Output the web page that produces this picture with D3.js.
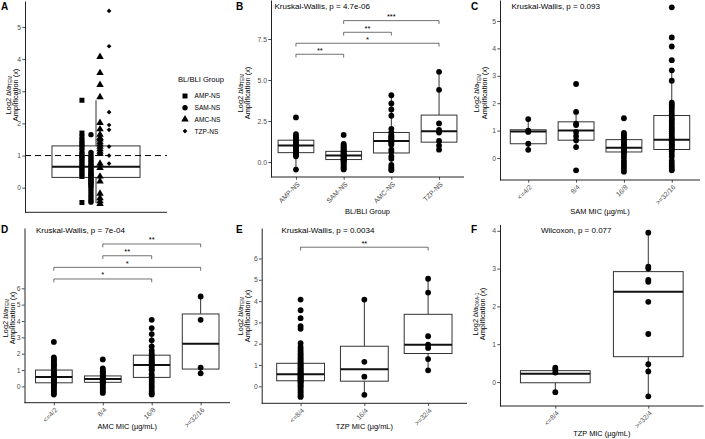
<!DOCTYPE html>
<html><head><meta charset="utf-8">
<script src="https://cdn.jsdelivr.net/npm/d3@7"></script>
<style>body{margin:0;background:#fff} svg{display:block;font-family:"Liberation Sans",Arial,sans-serif}</style>
</head><body><svg id="c" width="705" height="439"></svg>
<script>
// ---------------- DATA ----------------
const groupCats = ["AMP-NS","SAM-NS","AMC-NS","TZP-NS"];
const ampNS = [2.72,1.7,1.58,1.48,1.4,1.33,1.25,1.15,1.05,1.0,0.95,0.88,0.8,0.72,0.65,0.58,0.5,0.42,0.35,-0.46];
const samNS = [1.65,1.1,1.02,0.95,0.88,0.82,0.75,0.7,0.65,0.6,0.55,0.5,0.46,0.42,0.38,0.34,0.3,0.26,0.22,0.18,0.14,0.1,0.05,0.0,-0.08,-0.16,-0.24,-0.32,-0.4,-0.45];
const amcNS = [4.07,3.57,3.2,2.82,2.02,1.82,1.65,1.55,1.5,1.42,1.35,1.28,1.2,1.12,1.05,0.75,0.62,0.35,0.2,-0.18,-0.32,-0.42,-0.5];
const tzpNS = [5.5,4.4,2.35,1.95,1.8,1.28,1.0,0.75];
const allStats = {q1:0.32, med:0.65, q3:1.3, lo:-0.48, hi:2.72};
const groupQ1 = [0.57,0.15,0.55,1.21], groupMed=[1.0,0.4,1.28,1.88], groupQ3=[1.33,0.65,1.8,2.86], groupLo=[-0.46,-0.45,-0.5,0.75], groupHi=[1.7,1.1,4.07,5.5];
const groupBrackets = [["SAM-NS","TZP-NS",8.62,"***"],["SAM-NS","AMC-NS",7.91,"**"],["AMP-NS","TZP-NS",7.24,"*"],["AMP-NS","SAM-NS",6.57,"**"]];

const samMIC = ["<=4/2","8/4","16/8",">=32/16"];
const samPts = [
  [1.42,1.0,0.95,0.52,0.3],
  [2.7,1.68,1.25,1.2,0.95,0.8,0.65,0.4,-0.45],
  [1.45,0.92,0.86,0.8,0.72,0.66,0.6,0.55,0.5,0.45,0.4,0.36,0.32,0.28,0.24,0.2,0.12,0.02,-0.1,-0.2,-0.3,-0.4,-0.5],
  [5.5,4.4,4.07,3.57,3.2,2.82,2.02,1.95,1.88,1.8,1.7,1.6,1.5,1.42,1.35,1.28,1.2,1.12,1.05,0.98,0.9,0.82,0.75,0.7,0.65,0.6,0.55,0.5,0.45,0.4,0.35,0.3,0.25,0.15,0.05,-0.1,-0.2,-0.3,-0.38,-0.45]
];
const samQ1=[0.52,0.65,0.22,0.31], samMed=[0.97,1.0,0.37,0.67], samQ3=[1.03,1.32,0.67,1.55], samLo=[0.3,0.4,-0.5,-0.45], samHi=[1.42,1.68,0.92,3.2];

const amcMIC = ["<=4/2","8/4","16/8",">=32/16"];
const amcPts = [
  [2.72,1.77,1.68,1.6,1.5,1.42,1.35,1.28,1.2,1.1,1.0,0.95,0.88,0.8,0.72,0.68,0.62,0.58,0.52,0.46,0.4,0.34,0.28,0.22,0.15,0.08,0.0,-0.1,-0.2,-0.3,-0.4,-0.5],
  [1.65,1.1,1.0,0.92,0.85,0.78,0.7,0.64,0.58,0.52,0.47,0.43,0.4,0.36,0.32,0.28,0.24,0.2,0.1,0.0,-0.1,-0.2,-0.3,-0.4],
  [4.07,3.57,3.2,2.82,2.45,2.2,2.02,1.9,1.82,1.72,1.62,1.55,1.48,1.4,1.32,1.25,1.15,1.05,0.95,0.75,0.6,0.45,0.3,0.15,0.0,-0.15,-0.3,-0.42,-0.5],
  [5.5,4.07,1.15,0.8]
];
const amcQ1=[0.22,0.25,0.55,1.06], amcMed=[0.57,0.45,1.31,2.61], amcQ3=[1.0,0.64,1.91,4.43], amcLo=[-0.5,-0.4,-0.5,0.8], amcHi=[1.77,1.1,3.57,5.5];
const amcBrackets = [["8/4",">=32/16",8.71,"**"],["8/4","16/8",7.99,"**"],["<=4/2",">=32/16",7.28,"*"],["<=4/2","16/8",6.57,"*"]];

const tzpMIC = ["<=8/4","16/4",">=32/4"];
const tzpPts = [
  [4.07,3.57,3.2,2.82,2.7,2.02,1.85,1.75,1.65,1.55,1.48,1.4,1.32,1.25,1.18,1.1,1.05,1.0,0.95,0.9,0.85,0.8,0.75,0.7,0.65,0.6,0.57,0.54,0.5,0.46,0.42,0.38,0.34,0.3,0.26,0.22,0.18,0.12,0.05,0.0,-0.08,-0.16,-0.24,-0.32,-0.4,-0.46,-0.5],
  [4.07,1.15,0.45,-0.4],
  [5.05,4.4,2.35,1.95,1.8,1.28,0.75]
];
const tzpQ1=[0.26,0.24,1.54], tzpMed=[0.57,0.8,1.95], tzpQ3=[1.08,1.88,3.38], tzpLo=[-0.5,-0.4,0.75], tzpHi=[2.02,4.07,5.05];
const tzpBrackets = [["<=8/4",">=32/4",6.53,"**"]];

const oxaMIC = ["<=8/4",">=32/4"];
const oxaPts = [
  [0.38,0.33,0.25,-0.27],
  [3.95,3.05,3.0,2.7,2.65,2.12,1.27,0.47,0.28,-0.38]
];
const oxaQ1=[-0.02,0.67], oxaMed=[0.22,2.39], oxaQ3=[0.3,2.92], oxaLo=[-0.27,-0.38], oxaHi=[0.38,3.95];

// ---------------- DRAW ----------------
const svg = d3.select("#c");
const AX = "#222", TK = "#4d4d4d";

function yScaleFor(p){
  return d3.scaleLinear().domain([(p.zeroY-p.bottom)/p.unit,(p.zeroY-p.top)/p.unit]).range([p.bottom,p.top]);
}
function yAxis(g,y,p){
  const a = g.append("g").attr("transform",`translate(${p.left},0)`)
    .call(d3.axisLeft(y).tickValues(p.ticks).tickFormat(p.fmt||d3.format("d")).tickSize(2.7).tickSizeOuter(0));
  a.select(".domain").attr("stroke",AX).attr("stroke-width",1);
  a.selectAll(".tick line").attr("stroke",AX).attr("stroke-width",0.8);
  a.selectAll("text").attr("fill",TK).style("font-size","6.8px").style("font-family","Liberation Sans, Arial, sans-serif").attr("x",-4);
}
function yTitle(g,p,gene){
  const t1 = g.append("text").attr("transform",`translate(${p.ytx+2.6},${p.yty}) rotate(-90)`)
    .attr("text-anchor","middle").style("font-size","7.4px").attr("fill","#000");
  t1.append("tspan").text("Log2 ");
  t1.append("tspan").style("font-style","italic").text("bla");
  t1.append("tspan").style("font-size","4.8px").attr("dy","1.6").text(gene);
  g.append("text").attr("transform",`translate(${p.ytx+10.2},${p.yty}) rotate(-90)`)
    .attr("text-anchor","middle").style("font-size","7.4px").attr("fill","#000").text("Amplification (x)");
}
function letter(g,x,y,l){
  g.append("text").attr("x",x).attr("y",y).style("font-size","10px").style("font-weight","bold").text(l);
}
function boxes(g,x,y,cats,q1,med,q3,lo,hi,bw){
  cats.forEach((c,i)=>{
    const cx = x(c);
    g.append("line").attr("x1",cx).attr("x2",cx).attr("y1",y(q3[i])).attr("y2",y(hi[i])).attr("stroke","#333").attr("stroke-width",1);
    g.append("line").attr("x1",cx).attr("x2",cx).attr("y1",y(q1[i])).attr("y2",y(lo[i])).attr("stroke","#333").attr("stroke-width",1);
    g.append("rect").attr("x",cx-bw/2).attr("width",bw).attr("y",y(q3[i])).attr("height",y(q1[i])-y(q3[i]))
      .attr("fill","#fff").attr("stroke","#333").attr("stroke-width",1);
    g.append("line").attr("x1",cx-bw/2).attr("x2",cx+bw/2).attr("y1",y(med[i])).attr("y2",y(med[i])).attr("stroke","#111").attr("stroke-width",2);
  });
}
function catPanel(p){
  const g = svg.append("g");
  const y = yScaleFor(p);
  const x = d3.scalePoint().domain(p.cats).range([p.left,p.right]).padding(p.pad);
  const bw = 0.75*x.step();
  boxes(g,x,y,p.cats,p.q1,p.med,p.q3,p.lo,p.hi,bw);
  p.pts.forEach((arr,i)=>{
    g.selectAll(null).data(arr).enter().append("circle")
      .attr("cx",x(p.cats[i])).attr("cy",d=>y(d)).attr("r",2.9).attr("fill","#000");
  });
  yAxis(g,y,p);
  const xa = g.append("g").attr("transform",`translate(0,${p.bottom})`)
    .call(d3.axisBottom(x).tickSize(2.7).tickSizeOuter(0));
  xa.select(".domain").attr("stroke",AX).attr("stroke-width",1).attr("d",`M${p.left},0H${p.right}`);
  xa.selectAll(".tick line").attr("stroke",AX).attr("stroke-width",0.8);
  xa.selectAll("text").attr("fill",TK).style("font-size","6.8px").style("font-family","Liberation Sans, Arial, sans-serif")
    .attr("x",0).attr("y",0).attr("dy","0.35em").attr("transform","translate(2,6) rotate(-45)").style("text-anchor","end");
  g.append("text").attr("x",(p.left+p.right)/2).attr("y",p.xty).attr("text-anchor","middle").style("font-size","7.4px").text(p.xTitle);
  yTitle(g,p,p.gene);
  g.append("text").attr("x",p.annX).attr("y",p.annY).style("font-size","8px").text(p.ann);
  (p.brackets||[]).forEach(b=>{
    const x1=x(b[0]), x2=x(b[1]), yy=y(b[2]);
    g.append("path").attr("d",`M${x1},${yy+3.3}V${yy}H${x2}V${yy+3.3}`).attr("fill","none").attr("stroke","#333").attr("stroke-width",0.7);
    g.append("text").attr("x",(x1+x2)/2).attr("y",yy-1.6).attr("text-anchor","middle").style("font-size","7.5px").text(b[3]);
  });
  letter(g,p.lx,p.ly,p.letter);
}

// ---- Panel A ----
(function(){
  const p = {left:25,right:167,top:1,bottom:212.3,zeroY:187.7,unit:32.15,ticks:[0,1,2,3,4,5],ytx:8,yty:95};
  const g = svg.append("g");
  const y = yScaleFor(p);
  const x = d3.scaleLinear().domain([0,1]).range([p.left,p.right]);
  const xg = d3.scalePoint().domain(groupCats).range([0.401,0.592]);
  const bx0 = x(0.19), bx1 = x(0.81), cx = x(0.5);
  g.append("line").attr("x1",cx).attr("x2",cx).attr("y1",y(allStats.q3)).attr("y2",y(allStats.hi)).attr("stroke","#333");
  g.append("line").attr("x1",cx).attr("x2",cx).attr("y1",y(allStats.q1)).attr("y2",y(allStats.lo)).attr("stroke","#333");
  g.append("rect").attr("x",bx0).attr("width",bx1-bx0).attr("y",y(allStats.q3)).attr("height",y(allStats.q1)-y(allStats.q3))
    .attr("fill","none").attr("stroke","#333").attr("stroke-width",1);
  g.append("line").attr("x1",bx0).attr("x2",bx1).attr("y1",y(allStats.med)).attr("y2",y(allStats.med)).attr("stroke","#111").attr("stroke-width",2);
  g.append("line").attr("x1",p.left).attr("x2",p.right).attr("y1",y(1)).attr("y2",y(1)).attr("stroke","#000").attr("stroke-width",1).attr("stroke-dasharray","6,4");
  const shapes = {"AMP-NS":[d3.symbolSquare,25,0],"SAM-NS":[d3.symbolCircle,23,0],"AMC-NS":[d3.symbolTriangle,24,0],"TZP-NS":[d3.symbolSquare,11,45]};
  const sets = [ampNS,samNS,amcNS,tzpNS];
  groupCats.forEach((c,i)=>{
    const s = shapes[c];
    g.selectAll(null).data(sets[i]).enter().append("path")
      .attr("d",d3.symbol().type(s[0]).size(s[1]))
      .attr("transform",d=>`translate(${x(xg(c))},${y(d)}) rotate(${s[2]})`).attr("fill","#000");
  });
  yAxis(g,y,p);
  g.append("line").attr("x1",p.left).attr("x2",p.right).attr("y1",p.bottom).attr("y2",p.bottom).attr("stroke",AX).attr("stroke-width",1);
  yTitle(g,p,"TEM");
  letter(g,1,10,"A");
  // legend
  g.append("text").attr("x",178).attr("y",82).style("font-size","7.6px").text("BL/BLI Group");
  groupCats.forEach((c,i)=>{
    const s = shapes[c], ly = 96 + i*11.7;
    g.append("path").attr("d",d3.symbol().type(s[0]).size(s[1])).attr("transform",`translate(185,${ly}) rotate(${s[2]})`).attr("fill","#000");
    g.append("text").attr("x",194.5).attr("y",ly+2.4).style("font-size","6.6px").text(c);
  });
})();

// ---- Panel B ----
catPanel({letter:"B",lx:236,ly:10,left:271,right:464,top:0,bottom:177,zeroY:162,unit:16.4,pad:0.523,
  ticks:[0,2.5,5,7.5],fmt:d3.format(".1f"),cats:groupCats,pts:[ampNS,samNS,amcNS,tzpNS],
  q1:groupQ1,med:groupMed,q3:groupQ3,lo:groupLo,hi:groupHi,brackets:groupBrackets,
  xTitle:"BL/BLI Group",xty:213.5,ytx:240,yty:93,gene:"TEM",ann:"Kruskal-Wallis, p = 4.7e-06",annX:274.5,annY:9});
// ---- Panel C ----
catPanel({letter:"C",lx:471,ly:10,left:500,right:700,top:0,bottom:180,zeroY:158,unit:27.4,pad:0.59,
  ticks:[0,1,2,3,4,5],cats:samMIC,pts:samPts,q1:samQ1,med:samMed,q3:samQ3,lo:samLo,hi:samHi,
  xTitle:"SAM MIC (µg/mL)",xty:213.5,ytx:476.5,yty:93,gene:"TEM",ann:"Kruskal-Wallis, p = 0.093",annX:511.5,annY:9});
// ---- Panel D ----
catPanel({letter:"D",lx:1,ly:233,left:24.5,right:230,top:228,bottom:402.7,zeroY:386.4,unit:16.35,pad:0.6,
  ticks:[0,1,2,3,4,5,6],cats:amcMIC,pts:amcPts,q1:amcQ1,med:amcMed,q3:amcQ3,lo:amcLo,hi:amcHi,brackets:amcBrackets,
  xTitle:"AMC MIC (µg/mL)",xty:428.5,ytx:5,yty:318,gene:"TEM",ann:"Kruskal-Wallis, p = 7e-04",annX:36,annY:233});
// ---- Panel E ----
catPanel({letter:"E",lx:236,ly:233,left:261.7,right:467,top:228,bottom:403.3,zeroY:386.3,unit:21.3,pad:0.61,
  ticks:[0,1,2,3,4,5,6],cats:tzpMIC,pts:tzpPts,q1:tzpQ1,med:tzpMed,q3:tzpQ3,lo:tzpLo,hi:tzpHi,brackets:tzpBrackets,
  xTitle:"TZP MIC (µg/mL)",xty:428.5,ytx:240,yty:316,gene:"TEM",ann:"Kruskal-Wallis, p = 0.0034",annX:281.5,annY:233});
// ---- Panel F ----
catPanel({letter:"F",lx:471,ly:233,left:500,right:703.6,top:224.4,bottom:406,zeroY:382,unit:37.8,pad:0.595,
  ticks:[0,1,2,3,4],cats:oxaMIC,pts:oxaPts,q1:oxaQ1,med:oxaMed,q3:oxaQ3,lo:oxaLo,hi:oxaHi,
  xTitle:"TZP MIC (µg/mL)",xty:435.5,ytx:475,yty:314,gene:"OXA-1",ann:"Wilcoxon, p = 0.077",annX:541,annY:233});
</script></body></html>
